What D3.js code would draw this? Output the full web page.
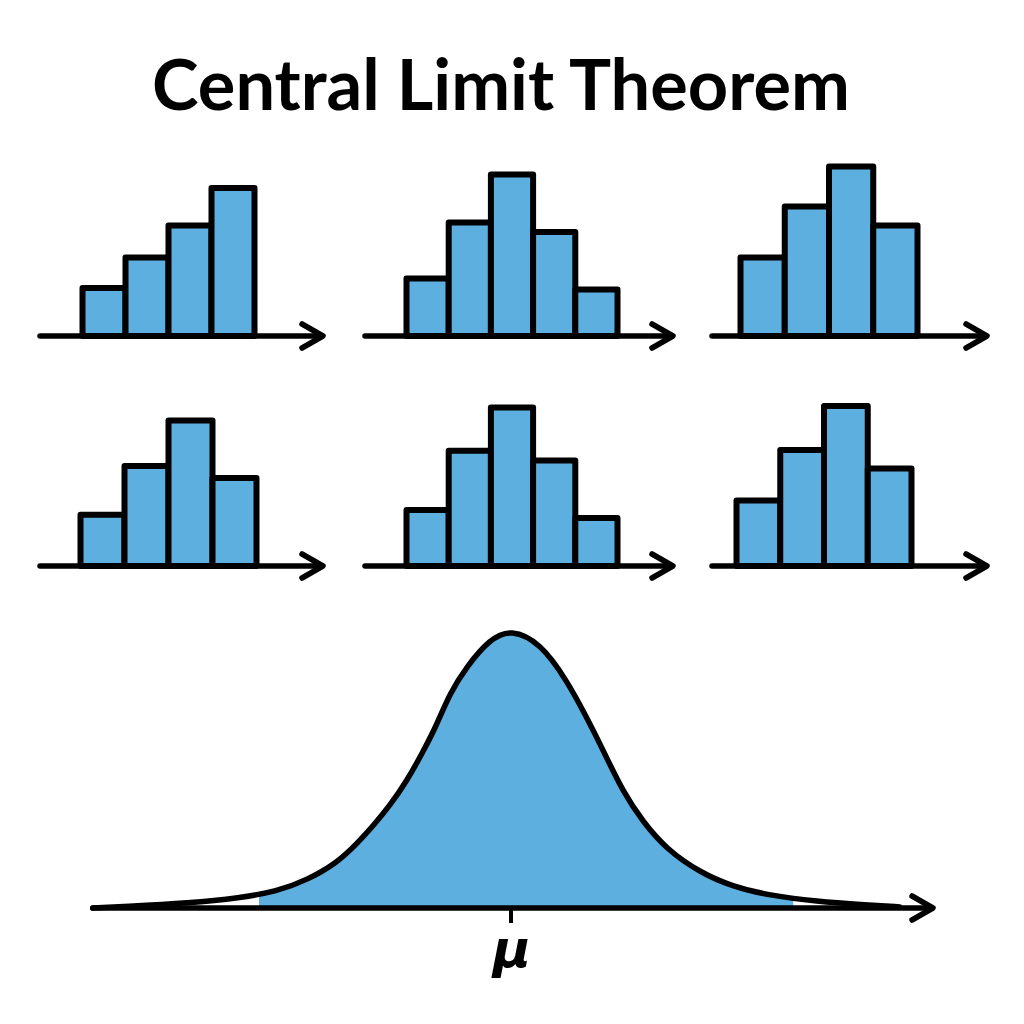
<!DOCTYPE html>
<meta charset="utf-8">
<style>
body { margin: 0; background: #fff; }
.bar { fill: #5dafdf; stroke: #000; stroke-width: 6px; stroke-linejoin: round; }
.axisline { fill: none; stroke: #000; stroke-width: 5.5px; stroke-linecap: round; stroke-linejoin: round; }
.curve { fill: none; stroke: #000; stroke-width: 5.5px; stroke-linecap: round; }
.under { fill: #5dafdf; }
</style>
<body>
<script src="https://d3js.org/d3.v7.min.js"></script>
<script>

// title
var title = "Central Limit Theorem";

// bar heights of the six small histograms
var hist1 = [3.0, 4.9, 6.9, 9.25];
var hist2 = [3.6, 7.1, 10.1, 6.5, 2.9];
var hist3 = [4.9, 8.1, 10.6, 6.9];
var hist4 = [3.2, 6.25, 9.1, 5.5];
var hist5 = [3.5, 7.2, 9.9, 6.6, 3.0];
var hist6 = [4.1, 7.25, 10.0, 6.1];

// bell curve points (x in sigma-like units from mu, y relative height)
var curveX = [-4.98, -4.62, -3.82, -3.23, -2.79, -2.43, -2.07, -1.83, -1.64, -1.44, -1.24, -1.04, -0.88, -0.73, -0.53, -0.25, 0, 0.35, 0.66, 0.90, 1.10, 1.33, 1.57, 1.85, 2.25, 2.64, 3.04, 3.64, 4.24, 4.63];
var curveY = [0, 0.005, 0.018, 0.036, 0.059, 0.10, 0.162, 0.232, 0.295, 0.368, 0.455, 0.564, 0.659, 0.768, 0.865, 0.964, 1.0, 0.95, 0.818, 0.684, 0.564, 0.418, 0.309, 0.211, 0.127, 0.077, 0.047, 0.023, 0.011, 0.004];
var tickLabel = "\u03bc";

// layout of each small panel: axis start/end, baseline, bar extent
var panels = [
  {data: hist1, x0: 40,  x1: 323, y: 336, b0: 82.5,  b1: 254.5},
  {data: hist2, x0: 365, x1: 673, y: 336, b0: 406.5, b1: 617.5},
  {data: hist3, x0: 712, x1: 987, y: 336, b0: 740.5, b1: 917.5},
  {data: hist4, x0: 40,  x1: 323, y: 566, b0: 80.5,  b1: 256.5},
  {data: hist5, x0: 365, x1: 673, y: 566, b0: 406.5, b1: 617.5},
  {data: hist6, x0: 712, x1: 987, y: 566, b0: 736.5, b1: 911.5}
];

var svg = d3.select("body").append("svg")
    .attr("width", 1024)
    .attr("height", 1024);

svg.append("rect").attr("width", 1024).attr("height", 1024).attr("fill", "#fff");

// title, sized so it spans the same width as the picture
var t = svg.append("text")
    .attr("x", 501)
    .attr("y", 110)
    .attr("text-anchor", "middle")
    .style("font-family", "Lato, 'Open Sans', sans-serif")
    .style("font-weight", 700)
    .style("font-size", "60px")
    .text(title);
var w = t.node().getComputedTextLength();
t.style("font-size", (60 * 698 / w) + "px");

// horizontal axis with open arrow head
function arrowAxis(g, x0, x1, y) {
  g.append("line")
      .attr("class", "axisline")
      .attr("x1", x0).attr("x2", x1 - 2)
      .attr("y1", y).attr("y2", y);
  g.append("path")
      .attr("class", "axisline")
      .attr("d", "M" + (x1 - 21) + "," + (y - 12) + "L" + x1 + "," + y + "L" + (x1 - 21) + "," + (y + 12));
}

// the six histograms
var yh = d3.scaleLinear().domain([0, 12]).range([0, 192]);

panels.forEach(function(p) {
  var g = svg.append("g");
  var xb = d3.scaleBand()
      .domain(d3.range(p.data.length))
      .range([p.b0, p.b1])
      .paddingInner(0);

  g.selectAll(".bar")
      .data(p.data)
    .enter().append("rect")
      .attr("class", "bar")
      .attr("x", function(d, i) { return xb(i); })
      .attr("width", xb.bandwidth())
      .attr("y", function(d) { return p.y - yh(d); })
      .attr("height", function(d) { return yh(d); });

  arrowAxis(g, p.x0, p.x1, p.y);
});

// bell curve
var curve = curveX.map(function(v, i) { return {x: v, y: curveY[i]}; });

var x = d3.scaleLinear().domain([-5, 5]).range([91, 931]);
// basis smoothing pulls the peak down a little, so the range reaches a bit higher
var y = d3.scaleLinear().domain([0, 1]).range([908, 629]);

svg.append("clipPath")
    .attr("id", "fillclip")
  .append("rect")
    .attr("x", x(-3.0))
    .attr("y", 600)
    .attr("width", x(3.36) - x(-3.0))
    .attr("height", 320);

svg.append("path")
    .datum(curve)
    .attr("class", "under")
    .attr("clip-path", "url(#fillclip)")
    .attr("d", d3.area()
        .curve(d3.curveBasis)
        .x(function(d) { return x(d.x); })
        .y0(y(0))
        .y1(function(d) { return y(d.y); }));

var bottom = svg.append("g");
arrowAxis(bottom, 93, 933, 908);

svg.append("path")
    .datum(curve)
    .attr("class", "curve")
    .attr("d", d3.line()
        .curve(d3.curveBasis)
        .x(function(d) { return x(d.x); })
        .y(function(d) { return y(d.y); }));

// mu tick and label
svg.append("line")
    .attr("x1", x(0)).attr("x2", x(0))
    .attr("y1", 908).attr("y2", 923)
    .attr("stroke", "#000")
    .attr("stroke-width", 4);

svg.append("text")
    .attr("x", x(0) + 1)
    .attr("y", 967)
    .attr("text-anchor", "middle")
    .style("font-family", "'DejaVu Sans', sans-serif")
    .style("font-style", "italic")
    .style("font-weight", 700)
    .style("font-size", "52px")
    .text(tickLabel);

</script>
</body>
